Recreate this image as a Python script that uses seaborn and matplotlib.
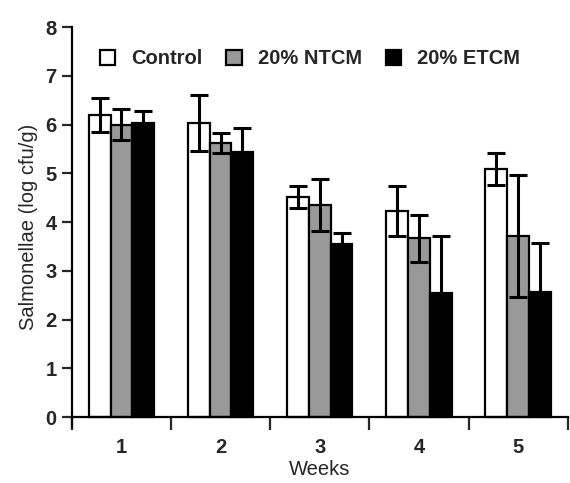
import matplotlib
matplotlib.use("Agg")
import matplotlib.pyplot as plt
import seaborn as sns
import pandas as pd
import numpy as np
from matplotlib.patches import Patch

weeks = ["1", "2", "3", "4", "5"]
groups = ["Control", "20% NTCM", "20% ETCM"]
control = [6.19, 6.03, 4.52, 4.23, 5.09]
ntcm = [6.00, 5.62, 4.35, 3.67, 3.71]
etcm = [6.03, 5.44, 3.55, 2.54, 2.56]
control_err = [0.35, 0.58, 0.22, 0.52, 0.33]
ntcm_err = [0.31, 0.21, 0.53, 0.48, 1.25]
etcm_err = [0.24, 0.48, 0.22, 1.18, 1.01]
colors = ["white", "#999999", "black"]

rows = []
for g, vals, errs in zip(groups, [control, ntcm, etcm], [control_err, ntcm_err, etcm_err]):
    for w, v, e in zip(weeks, vals, errs):
        rows.append({"Weeks": w, "Group": g, "Value": v, "Err": e})
df = pd.DataFrame(rows)

sns.set_style("ticks")
plt.rcParams['font.family'] = ['Liberation Sans', 'DejaVu Sans']

fig = plt.figure(figsize=(5.7, 4.83), dpi=100)
ax = fig.add_axes([0.126, 0.116, 0.87, 0.828])

sns.barplot(data=df, x="Weeks", y="Value", hue="Group", order=weeks, hue_order=groups,
            palette=colors, width=0.66, edgecolor="black", linewidth=1.6,
            errorbar=None, legend=False, ax=ax, saturation=1)

for container, g in zip(ax.containers, groups):
    sub = df[df["Group"] == g].set_index("Weeks").loc[weeks]
    xs = [p.get_x() + p.get_width() / 2 for p in container.patches]
    ax.errorbar(xs, sub["Value"].values, yerr=sub["Err"].values, fmt="none",
                ecolor="black", elinewidth=2.2, capsize=6.5, capthick=2.2, zorder=5)

ax.set_ylim(-0.2, 8)
ax.set_xlim(-0.5, 4.5)
ax.spines["bottom"].set_position(("data", 0))
ax.spines["left"].set_bounds(-0.2, 8)
for s in ["top", "right"]:
    ax.spines[s].set_visible(False)
for s in ["left", "bottom"]:
    ax.spines[s].set_linewidth(1.6)
    ax.spines[s].set_color("black")

ax.set_yticks(range(0, 9))
ax.tick_params(axis="y", direction="out", length=7, width=1.6, labelsize=14.5, pad=4)
for lbl in ax.get_yticklabels():
    lbl.set_fontweight("bold")
ax.set_xticks(range(5))
ax.set_xticklabels(weeks, fontweight="bold", fontsize=14.5)
ax.tick_params(axis="x", which="major", length=0, pad=15)
ax.set_xticks(np.arange(-0.5, 5, 1), minor=True)
ax.tick_params(axis="x", which="minor", direction="out", length=9, width=1.6)

ax.set_xlabel("Weeks", fontsize=14.5, labelpad=2)
ax.set_ylabel("Salmonellae (log cfu/g)", fontsize=14.5, labelpad=5)

handles = [Patch(facecolor=c, edgecolor="black", linewidth=1.6) for c in colors]
ax.legend(handles, groups, ncol=3, frameon=False, loc="upper left",
          bbox_to_anchor=(0.02, 0.99), handlelength=0.75, handleheight=0.75,
          columnspacing=1.2, handletextpad=0.8, prop={"weight": "bold", "size": 14.5})

fig.savefig("out.png", dpi=100)
